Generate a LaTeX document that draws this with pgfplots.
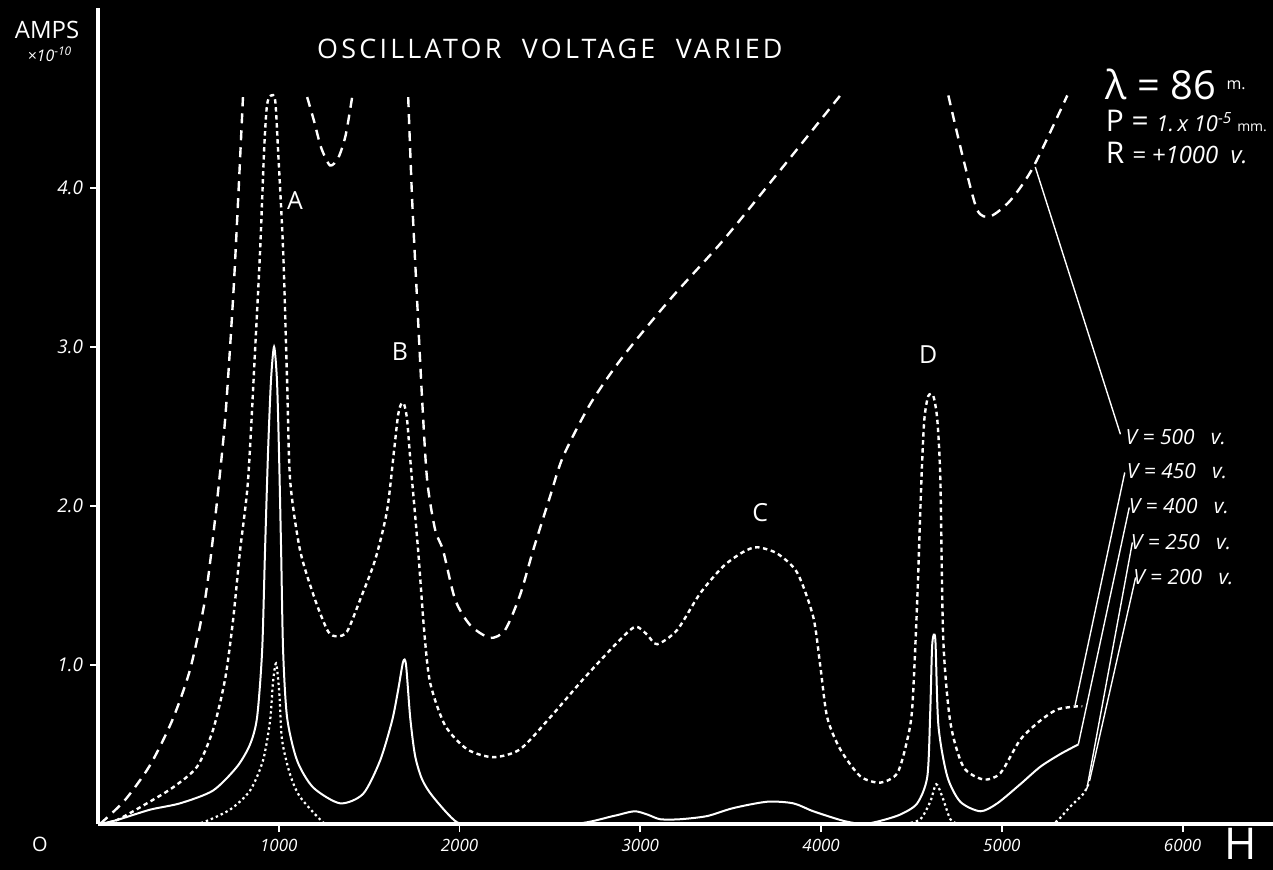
\documentclass[border=0pt]{standalone}
\usepackage{pgfplots}
\pgfplotsset{compat=1.18}
\usepackage{fontspec}
\setmainfont{Open Sans}
\begin{document}
\begin{tikzpicture}
\path[use as bounding box, fill=black] (-49bp,-23bp) rectangle (587.5bp,412bp);
\begin{axis}[at={(0,0)}, anchor=south west, scale only axis,
  width=587.5bp, height=408bp,
  xmin=0, xmax=6500, ymin=0, ymax=5.13,
  axis x line=bottom, axis y line=left,
  axis line style={-, white, line width=1.8bp},
  every outer x axis line/.append style={-},
  every outer y axis line/.append style={-},
  xtick={1000,2000,3000,4000,5000,6000},
  xticklabels={1000,2000,3000,4000,5000,6000},
  ytick={1,2,3,4}, yticklabels={1.0,2.0,3.0,4.0},
  tick align=outside, major tick length=4bp,
  tick style={white, line width=0.9bp},
  xticklabel style={white, font=\itshape\fontsize{8.5}{9}\selectfont},
  yticklabel style={white, font=\itshape\fontsize{9.5}{10}\selectfont},
  clip=false,
  every axis plot/.append style={smooth, tension=0.45},
]
% V = 500 (long dashes)
\addplot[white, line width=1.2bp, dash pattern=on 5bp off 3.5bp] coordinates {
(11,0) (149,0.15) (288,0.37) (410,0.65) (509,0.97) (592,1.41) (647,1.91) (703,2.54) (747,3.30) (775,3.92) (802,4.57)};
\addplot[white, line width=1.2bp, dash pattern=on 5bp off 3.5bp] coordinates {
(1157,4.57) (1195,4.42) (1235,4.25) (1284,4.14) (1330,4.19) (1370,4.33) (1406,4.57)};
\addplot[white, line width=1.2bp, dash pattern=on 5bp off 3.5bp] coordinates {
(1716,4.57) (1738,3.92) (1765,3.30) (1793,2.67) (1821,2.16) (1865,1.85) (1909,1.72) (1976,1.41) (2059,1.25) (2169,1.17) (2252,1.22) (2335,1.44) (2407,1.72) (2501,2.06) (2573,2.31) (2723,2.64) (2905,2.94) (3166,3.30) (3459,3.67) (3774,4.11) (4106,4.58)};
\addplot[white, line width=1.2bp, dash pattern=on 5bp off 3.5bp] coordinates {
(4704,4.58) (4787,4.18) (4864,3.86) (4936,3.82) (5047,3.92) (5174,4.13) (5362,4.58)};
% V = 450 (short dashes)
\addplot[white, line width=1.2bp, dash pattern=on 2.2bp off 1.8bp] coordinates {
(11,0) (105,0.025) (271,0.13) (415,0.23) (548,0.36) (636,0.59) (703,0.91) (747,1.28) (786,1.72) (830,2.16) (869,2.98) (897,3.61) (919,4.24) (935,4.52) (957,4.58) (980,4.55) (996,4.24) (1024,3.61) (1046,2.79) (1063,2.16) (1118,1.72) (1201,1.41) (1273,1.21) (1323,1.18) (1378,1.21) (1450,1.41) (1533,1.66) (1599,1.97) (1638,2.35) (1660,2.57) (1677,2.64) (1693,2.64) (1710,2.54) (1732,2.23) (1771,1.72) (1804,1.22) (1837,0.89) (1920,0.62) (2042,0.47) (2186,0.42) (2335,0.47) (2501,0.67) (2684,0.91) (2872,1.14) (2972,1.24) (3038,1.19) (3093,1.13) (3204,1.22) (3331,1.45) (3459,1.62) (3569,1.71) (3647,1.74) (3758,1.70) (3868,1.58) (3957,1.30) (3996,0.99) (4034,0.67) (4106,0.47) (4217,0.30) (4328,0.26) (4422,0.32) (4477,0.53) (4505,0.74) (4532,1.41) (4555,2.16) (4571,2.54) (4593,2.69) (4621,2.69) (4643,2.54) (4660,2.16) (4676,1.16) (4715,0.64) (4787,0.36) (4898,0.28) (4992,0.32) (5102,0.53) (5213,0.65) (5307,0.72) (5418,0.74) (5445,0.74)};
% V = 400 (solid)
\addplot[white, line width=1bp] coordinates {
(11,0) (105,0.025) (288,0.09) (454,0.13) (636,0.21) (769,0.36) (841,0.50) (880,0.67) (908,1.09) (924,1.72) (941,2.35) (957,2.79) (974,3.0) (990,2.79) (1001,2.35) (1013,1.72) (1024,1.09) (1046,0.67) (1101,0.40) (1190,0.23) (1339,0.13) (1467,0.19) (1561,0.40) (1627,0.65) (1660,0.84) (1688,1.02) (1704,1.00) (1727,0.67) (1754,0.43) (1793,0.28) (1854,0.17) (1987,0.01) (2114,0) (2629,0) (2850,0.05) (2966,0.08) (3038,0.06) (3110,0.03) (3221,0.03) (3370,0.05) (3514,0.10) (3702,0.14) (3846,0.13) (3957,0.08) (4123,0.02) (4233,0.0) (4328,0.02) (4439,0.06) (4532,0.13) (4588,0.30) (4604,0.71) (4615,1.13) (4632,1.16) (4649,0.62) (4698,0.30) (4770,0.14) (4881,0.08) (4975,0.13) (5102,0.25) (5213,0.36) (5324,0.44) (5423,0.50)};
% V = 250 (dots)
\addplot[white, line width=1.1bp, dash pattern=on 1.2bp off 1.5bp] coordinates {
(509,0) (581,0.01) (730,0.09) (841,0.21) (913,0.40) (952,0.65) (968,0.89) (985,1.01) (1002,0.84) (1018,0.53) (1063,0.31) (1118,0.17) (1245,0.01) (1284,0)};
\addplot[white, line width=1.1bp, dash pattern=on 1.2bp off 1.5bp] coordinates {
(4466,0) (4549,0.03) (4604,0.14) (4637,0.25) (4671,0.17) (4715,0.03) (4760,0)};
\addplot[white, line width=1.1bp, dash pattern=on 1.2bp off 1.5bp] coordinates {
(5268,0) (5307,0.02) (5379,0.11) (5451,0.19) (5479,0.25)};
% pointer lines
\draw[white, line width=0.7bp] (axis cs:5185,4.13) -- (axis cs:5656,2.45);
\draw[white, line width=0.7bp] (axis cs:5405,0.745) -- (axis cs:5680,2.21);
\draw[white, line width=0.7bp] (axis cs:5423,0.50) -- (axis cs:5705,1.99);
\draw[white, line width=0.7bp] (axis cs:5470,0.22) -- (axis cs:5722,1.77);
\draw[white, line width=0.7bp] (axis cs:5485,0.27) -- (axis cs:5740,1.55);
% labels
\node[white, font=\fontsize{13.5}{14}\selectfont\addfontfeature{LetterSpace=12}] at (axis cs:2500,4.87) {OSCILLATOR\ \ VOLTAGE\ \ VARIED};
\node[white, font=\fontsize{12}{12}\selectfont] at (axis cs:-282,4.99) {AMPS};
\node[white, font=\itshape\fontsize{8}{8}\selectfont] at (axis cs:-266,4.84) {×10\textsuperscript{-10}};
\node[white, font=\fontsize{12.5}{13}\selectfont] at (axis cs:1090,3.92) {A};
\node[white, font=\fontsize{12.5}{13}\selectfont] at (axis cs:1671,2.97) {B};
\node[white, font=\fontsize{12.5}{13}\selectfont] at (axis cs:3663,1.96) {C};
\node[white, font=\fontsize{12.5}{13}\selectfont] at (axis cs:4593,2.95) {D};
\node[white, font=\fontsize{10}{10}\selectfont] at (axis cs:-321,-0.13) {O};
\node[white, font=\fontsize{22}{22}\selectfont] at (axis cs:6320,-0.125) {H};
\node[white, anchor=west, inner sep=0pt] at (axis cs:5573,4.65) {\fontsize{20}{20}\selectfont λ = 86 \raisebox{5pt}{\fontsize{8}{8}\selectfont m.}};
\node[white, anchor=west, inner sep=0pt] at (axis cs:5573,4.42) {\fontsize{15}{15}\selectfont P = {\itshape\fontsize{11}{11}\selectfont 1.\,x 10\textsuperscript{-5}}\,{\fontsize{7}{7}\selectfont mm.}};
\node[white, anchor=west, inner sep=0pt] at (axis cs:5573,4.22) {\fontsize{15}{15}\selectfont R {\itshape\fontsize{12}{12}\selectfont = +1000 \ v.}};
\node[white, anchor=west, inner sep=0pt, font=\itshape\fontsize{10.5}{10.5}\selectfont] at (axis cs:5683,2.43) {V = 500 \ \ v.};
\node[white, anchor=west, inner sep=0pt, font=\itshape\fontsize{10.5}{10.5}\selectfont] at (axis cs:5690,2.22) {V = 450 \ \ v.};
\node[white, anchor=west, inner sep=0pt, font=\itshape\fontsize{10.5}{10.5}\selectfont] at (axis cs:5700,2.00) {V = 400 \ \ v.};
\node[white, anchor=west, inner sep=0pt, font=\itshape\fontsize{10.5}{10.5}\selectfont] at (axis cs:5712,1.77) {V = 250 \ \ v.};
\node[white, anchor=west, inner sep=0pt, font=\itshape\fontsize{10.5}{10.5}\selectfont] at (axis cs:5725,1.55) {V = 200 \ \ v.};
\end{axis}
\end{tikzpicture}
\end{document}
